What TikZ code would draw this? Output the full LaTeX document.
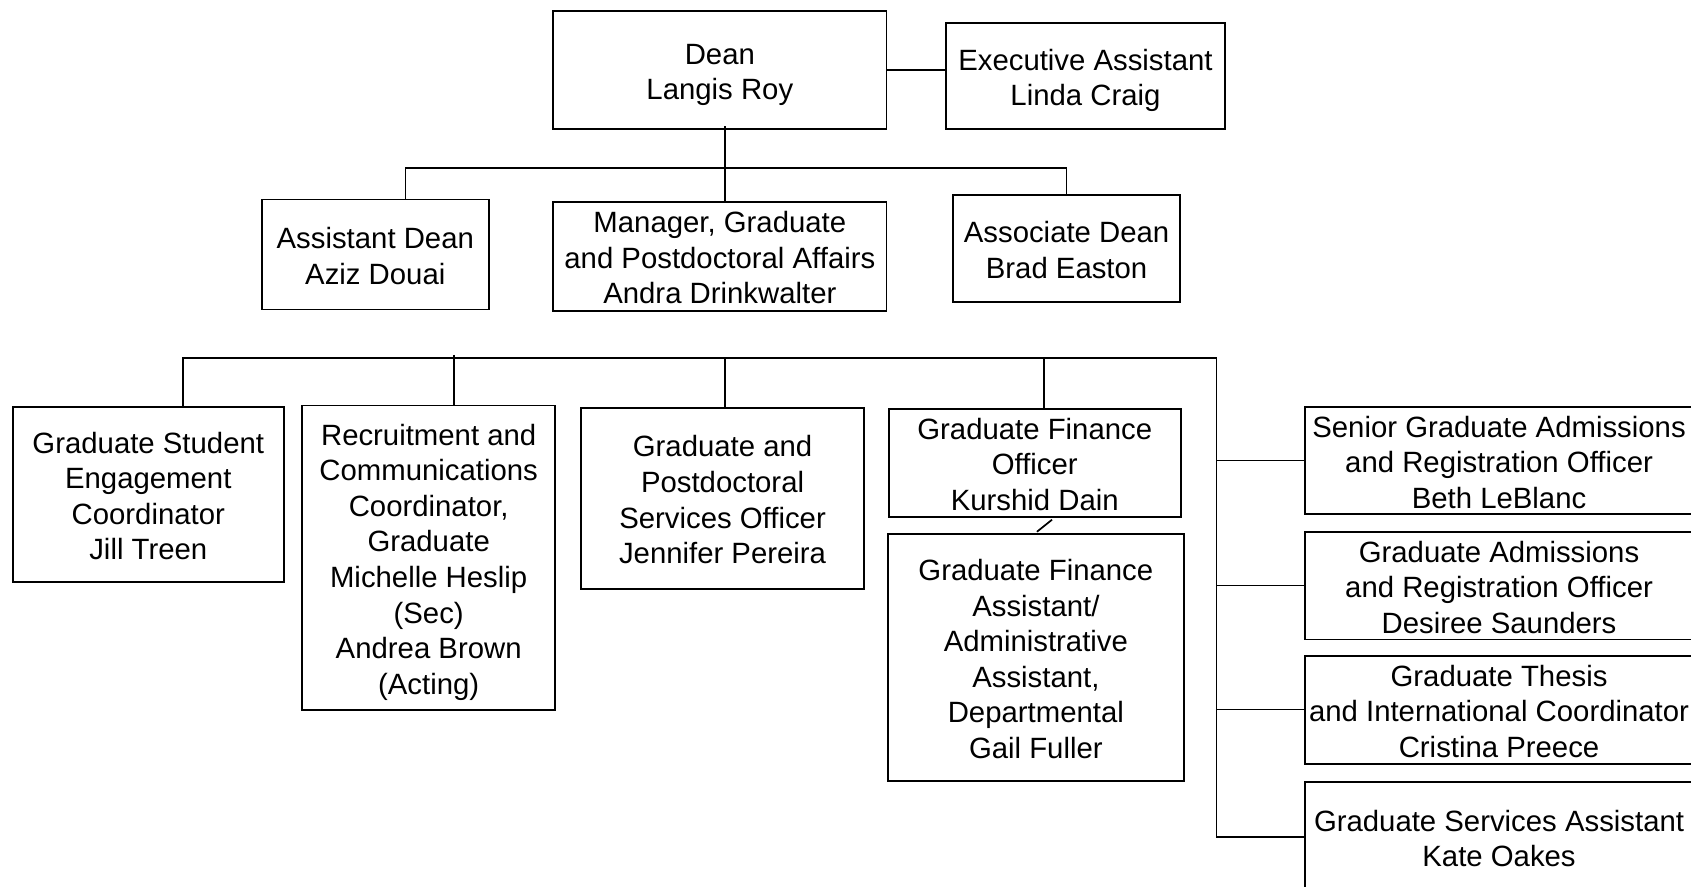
\documentclass[tikz,border=0pt]{standalone}
\usepackage{fontspec}
\setmainfont{Liberation Sans}
\newcommand\firstline{\rule{0pt}{28pt}}

\begin{document}
\begin{tikzpicture}[x=1pt, y=-1pt,
    box/.style={draw, line width=1.8pt, inner sep=0pt, align=center,
        font=\fontsize{27.2}{33}\selectfont,
        execute at end node={\rule[-5.5pt]{0pt}{5.5pt}}},
    boxsize/.style 2 args={minimum width=#1pt, minimum height=#2pt},
    link/.style={line width=1.6pt}]
    \path[use as bounding box, fill=white] (0,0) rectangle (1568,822);

 %%%%%%%%%%%%%%%%%Dean and first level
\node[box, boxsize={309}{110}] (dean) at (667.5,65) {\firstline Dean\\Langis Roy};
\node[box, boxsize={259}{99}] (exec) at (1006.5,70.5) {\firstline Executive Assistant\\Linda Craig};
\node[box, boxsize={210}{102}] (adean) at (348,236) {\firstline Assistant Dean\\Aziz Douai};
\node[box, boxsize={309}{101}] (mgr) at (667.5,237.5) {\firstline Manager, Graduate\\and Postdoctoral Affairs\\Andra Drinkwalter};
\node[box, boxsize={210}{99}] (assoc) at (989,230.5) {\firstline Associate Dean\\Brad Easton};

 %%%%%%%%%%%%%%%%%Staff
\node[box, boxsize={251}{163}] (gse) at (137.5,458.5) {\firstline Graduate Student\\Engagement\\Coordinator\\Jill Treen};
\node[box, boxsize={235}{282}] (rcc) at (397.5,517) {\firstline Recruitment and\\Communications\\Coordinator,\\Graduate\\Michelle Heslip\\(Sec)\\Andrea Brown\\(Acting)};
\node[box, boxsize={262}{168}] (gpso) at (670,462) {\firstline Graduate and\\Postdoctoral\\Services Officer\\Jennifer Pereira};
\node[box, boxsize={271}{100}] (gfo) at (959.5,429) {\firstline Graduate Finance\\Officer\\Kurshid Dain};
\node[box, boxsize={275}{229}] (gfa) at (960.5,609.5) {\firstline Graduate Finance\\Assistant/\\Administrative\\Assistant,\\Departmental\\Gail Fuller};

 %%%%%%%%%%%%%%%%%Admissions column
\node[box, boxsize={360}{100}] (sgar) at (1390,427) {\firstline Senior Graduate Admissions\\and Registration Officer\\Beth LeBlanc};
\node[box, boxsize={360}{100}] (gar) at (1390,543) {\firstline Graduate Admissions\\and Registration Officer\\Desiree Saunders};
\node[box, boxsize={360}{100}] (gtic) at (1390,658) {\firstline Graduate Thesis\\and International Coordinator\\Cristina Preece};
\node[box, boxsize={360}{102}] (gsa) at (1390,776) {\firstline Graduate Services Assistant\\Kate Oakes};

%%%%%%%%%%%%%%%%%%%%%%%%%%%%%%%%%%%%%%%%%%%%%%%%%%%%%%%%%%%%%%%
\coordinate (topbus) at (672,156);
\coordinate (lowbus) at (1128,332);

\draw[link] (dean.east) -- (dean.east -| exec.west);
\draw[link] ([xshift=4.5pt,yshift=4pt]dean.south) -- ([xshift=4.5pt]mgr.north);
\draw[link] ([xshift=28pt]adean.north) |- (topbus) -| (assoc.north);

\draw[link] ([xshift=32.5pt]gse.north) |- (lowbus) |- (gsa.west);
\draw[link] ([xshift=23.5pt,yshift=3pt]rcc.north |- lowbus) -- ([xshift=23.5pt]rcc.north);
\draw[link] ([xshift=2pt]gpso.north) |- (lowbus);
\draw[link] ([xshift=8.5pt]gfo.north) |- (lowbus);
\draw[link] ([xshift=16pt,yshift=-2pt]gfo.south) -- ([xshift=1pt,yshift=1pt]gfa.north);
\foreach \n in {sgar,gar,gtic}
    \draw[link] (lowbus |- \n.west) -- (\n.west);
\end{tikzpicture}
\end{document}
